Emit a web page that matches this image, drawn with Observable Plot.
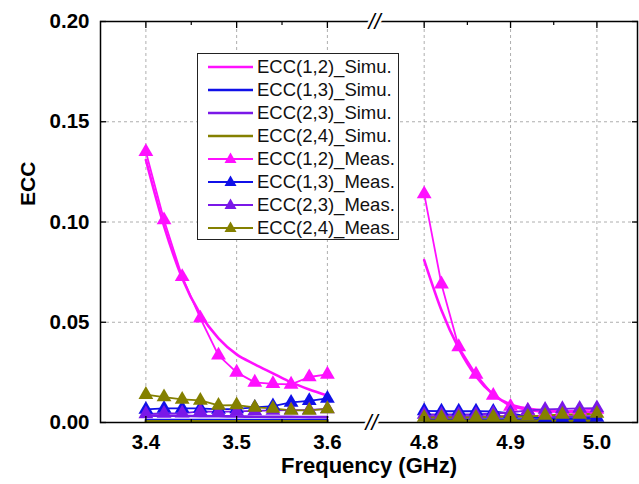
<!DOCTYPE html>
<html>
<head>
<meta charset="utf-8">
<script src="https://cdn.jsdelivr.net/npm/d3@7"></script>
<script src="https://cdn.jsdelivr.net/npm/@observablehq/plot@0.6"></script>
<style>
  html, body { margin: 0; padding: 0; background: #fff; }
  #wrap { position: relative; width: 639px; height: 484px; font-family: "Liberation Sans", Arial, sans-serif; }
  #legend { position: absolute; left: 197px; top: 53px; width: 202px; height: 187px; box-sizing: border-box;
            border: 1px solid #222; background: #fff; padding-top: 1px; }
  .row { height: 23px; display: flex; align-items: center; font-size: 18.5px; color: #111; white-space: nowrap; }
  .row svg { flex: none; }
</style>
</head>
<body>
<div id="wrap"><div id="chart"></div><div id="legend"></div></div>
<script>
// ---- data ----
const freqLow  = [3.40, 3.42, 3.44, 3.46, 3.48, 3.50, 3.52, 3.54, 3.56, 3.58, 3.60];
const freqHigh = [4.80, 4.82, 4.84, 4.86, 4.88, 4.90, 4.92, 4.94, 4.96, 4.98, 5.00];

const pairs  = ["ECC(1,2)", "ECC(1,3)", "ECC(2,3)", "ECC(2,4)"];
const colors = ["#ff10ff", "#1010e8", "#7a18e8", "#848000"];

// simulated (low band)
const simu12Low = [0.131, 0.098, 0.072, 0.054, 0.042, 0.034, 0.029, 0.0245, 0.020, 0.0165, 0.0135];
const simu13Low = [0.0012, 0.0012, 0.0012, 0.0012, 0.0012, 0.0012, 0.0012, 0.0012, 0.0012, 0.0012, 0.0012];
const simu23Low = [0.0035, 0.0034, 0.0033, 0.0032, 0.0031, 0.0030, 0.0029, 0.0028, 0.0028, 0.0027, 0.0027];
const simu24Low = [0.0006, 0.0006, 0.0006, 0.0006, 0.0006, 0.0006, 0.0006, 0.0006, 0.0006, 0.0006, 0.0006];
// measured (low band)
const meas12Low = [0.135, 0.101, 0.0727, 0.052, 0.0335, 0.025, 0.020, 0.0193, 0.0190, 0.0227, 0.0240];
const meas13Low = [0.0065, 0.0070, 0.0070, 0.0070, 0.0065, 0.0068, 0.0075, 0.0082, 0.0100, 0.0108, 0.0120];
const meas23Low = [0.0043, 0.0045, 0.0046, 0.0055, 0.0053, 0.0055, 0.0058, 0.0060, 0.0062, 0.0063, 0.0068];
const meas24Low = [0.0139, 0.0127, 0.0115, 0.0110, 0.0085, 0.0087, 0.0075, 0.0070, 0.0060, 0.0060, 0.0068];
// simulated (high band)
const simu12High = [0.081, 0.056, 0.037, 0.023, 0.014, 0.009, 0.007, 0.006, 0.0055, 0.0052, 0.0050];
const simu13High = [0.0015, 0.0015, 0.0015, 0.0015, 0.0015, 0.0015, 0.0015, 0.0015, 0.0015, 0.0015, 0.0015];
const simu23High = [0.0030, 0.0030, 0.0030, 0.0030, 0.0030, 0.0030, 0.0030, 0.0030, 0.0030, 0.0030, 0.0030];
const simu24High = [0.0008, 0.0008, 0.0008, 0.0008, 0.0008, 0.0008, 0.0008, 0.0008, 0.0008, 0.0008, 0.0008];
// measured (high band)
const meas12High = [0.114, 0.069, 0.0377, 0.024, 0.0135, 0.008, 0.006, 0.005, 0.0055, 0.006, 0.0065];
const meas13High = [0.0058, 0.0056, 0.0056, 0.0056, 0.0055, 0.0045, 0.0030, 0.0022, 0.0020, 0.0020, 0.0025];
const meas23High = [0.0040, 0.0040, 0.0040, 0.0040, 0.0045, 0.0050, 0.0060, 0.0065, 0.0068, 0.0070, 0.0072];
const meas24High = [0.0025, 0.0025, 0.0025, 0.0025, 0.0028, 0.0030, 0.0030, 0.0035, 0.0040, 0.0040, 0.0045];

// axis / scale settings
const xTicks   = [3.4, 3.5, 3.6, 4.8, 4.9, 5.0];
const xMinor   = [3.45, 3.55, 4.85, 4.95];
const yTicks   = [0, 0.05, 0.10, 0.15, 0.20];
const yGrid    = [0.05, 0.10, 0.15];
const xDomain  = [3.35, 3.6486, 4.739, 5.047];
const xRange   = [100, 371, 371, 637];
const breakAt  = [4.2];
const yTitle   = ["ECC"];

// ---- build table ----
const simu = [
  [simu12Low, simu12High], [simu13Low, simu13High], [simu23Low, simu23High], [simu24Low, simu24High]
];
const meas = [
  [meas12Low, meas12High], [meas13Low, meas13High], [meas23Low, meas23High], [meas24Low, meas24High]
];
function rows(src, kind) {
  const out = [];
  src.forEach(([lo, hi], i) => {
    lo.forEach((v, j) => out.push({f: freqLow[j], v, pair: pairs[i], key: pairs[i] + "L", kind}));
    hi.forEach((v, j) => out.push({f: freqHigh[j], v, pair: pairs[i], key: pairs[i] + "H", kind}));
  });
  return out;
}
const simuRows = rows(simu, "Simu.");
const measRows = rows(meas, "Meas.");
const color = {domain: pairs, range: colors};

const font = "'Liberation Sans', Arial, sans-serif";
const chart = Plot.plot({
  width: 639, height: 484,
  marginLeft: 100, marginRight: 2, marginTop: 21, marginBottom: 62,
  style: {fontFamily: font, background: "#fff", color: "#000"},
  x: {type: "linear", domain: xDomain, range: xRange},
  y: {domain: [0, 0.2]},
  color,
  marks: [
    Plot.ruleX(xTicks, {y1: 0, y2: 0.2, stroke: "#999", strokeDasharray: "3,3", strokeWidth: 0.8}),
    Plot.ruleY(yGrid, {x1: xDomain[0], x2: xDomain[3], stroke: "#999", strokeDasharray: "3,3", strokeWidth: 0.8}),
    Plot.line(simuRows, {x: "f", y: "v", z: "key", stroke: "pair", strokeWidth: 2.6, curve: "monotone-x"}),
    Plot.line(measRows, {x: "f", y: "v", z: "key", stroke: "pair", strokeWidth: 1.8}),
    Plot.dot(measRows, {x: "f", y: "v", fill: "pair", symbol: "triangle", r: 5.5}),
    Plot.frame({stroke: "#000", strokeWidth: 1.5}),
    Plot.text(breakAt, {x: d => d, y: 0, text: () => "//", fontSize: 22, fontStyle: "italic", fill: "#000", stroke: "#fff", strokeWidth: 5}),
    Plot.text(breakAt, {x: d => d, y: 0.2, dx: 3, text: () => "//", fontSize: 22, fontStyle: "italic", fill: "#000", stroke: "#fff", strokeWidth: 5}),
    // inward ticks
    Plot.axisY({anchor: "left", ticks: yTicks, tickSize: -6, fill: "none", label: null, strokeWidth: 1.3}),
    Plot.axisY({anchor: "right", ticks: yTicks, tickSize: -6, fill: "none", label: null, strokeWidth: 1.3}),
    Plot.axisX({anchor: "bottom", ticks: xTicks, tickSize: -6, fill: "none", label: null, strokeWidth: 1.3}),
    Plot.axisX({anchor: "top", ticks: xTicks, tickSize: -6, fill: "none", label: null, strokeWidth: 1.3}),
    Plot.axisX({anchor: "bottom", ticks: xMinor, tickSize: -3, fill: "none", label: null, strokeWidth: 1.2}),
    Plot.axisX({anchor: "top", ticks: xMinor, tickSize: -3, fill: "none", label: null, strokeWidth: 1.2}),
    // labels
    Plot.axisY({anchor: "left", ticks: yTicks, tickSize: 0, tickPadding: 11, stroke: "none",
      tickFormat: d3.format(".2f"), fontSize: 20.5, fontWeight: "bold", label: null}),
    Plot.text(yTitle, {frameAnchor: "left", rotate: -90, dx: -72, dy: -16, text: d => d,
      fontSize: 21, fontWeight: "bold", fill: "#000"}),
    Plot.axisX({anchor: "bottom", ticks: xTicks, tickSize: 0, tickPadding: 12, stroke: "none",
      tickFormat: d3.format(".1f"), fontSize: 20.5, fontWeight: "bold",
      label: "Frequency (GHz)", labelAnchor: "center", labelArrow: "none", labelOffset: 50})
  ]
});
document.getElementById("chart").appendChild(chart);
// enlarge the x-axis title only
chart.querySelectorAll("text").forEach(t => {
  if (t.textContent === "Frequency (GHz)") t.setAttribute("font-size", "22");
});

// ---- legend ----
const legend = document.getElementById("legend");
const entries = [];
["Simu.", "Meas."].forEach(kind => pairs.forEach((p, i) => entries.push({label: p + "_" + kind, c: colors[i], kind})));
entries.forEach(e => {
  const row = document.createElement("div");
  row.className = "row";
  const w = e.kind === "Simu." ? 2.6 : 1.8;
  const tri = e.kind === "Meas." ? `<path d="M32.5,5.5 L38.5,16 L26.5,16 Z" fill="${e.c}"/>` : "";
  row.innerHTML = `<svg width="59" height="23"><line x1="10" x2="55" y1="12" y2="12" stroke="${e.c}" stroke-width="${w}"/>${tri}</svg><span>${e.label}</span>`;
  legend.appendChild(row);
});
</script>
</body>
</html>
